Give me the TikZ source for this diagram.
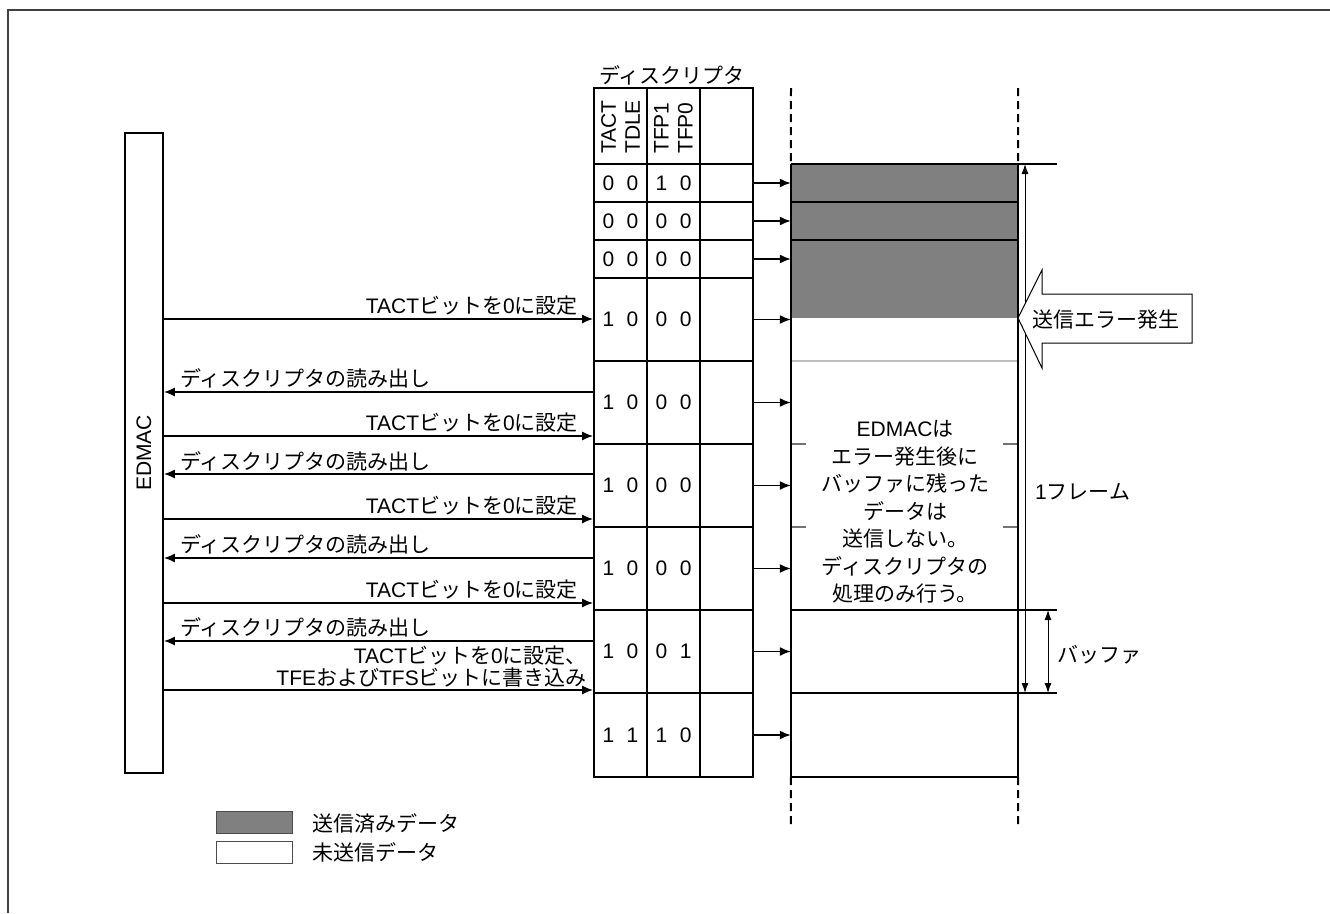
\documentclass[tikz,border=0pt]{standalone}
\usepackage{fontspec}
\setmainfont{Liberation Sans}
\newfontfamily\jpf{Noto Sans CJK JP}
\newcommand\jj[1]{{\jpf #1}}
\usetikzlibrary{arrows.meta}
\definecolor{sentgray}{HTML}{808080}
\definecolor{framegray}{HTML}{404040}
\begin{document}
\begin{tikzpicture}[x=1pt,y=-1pt,
  txt/.style={inner sep=0pt, font=\fontsize{21}{24}\selectfont},
  cell/.style={draw, line width=1.8pt, minimum width=53pt, inner sep=0pt, font=\fontsize{21}{24}\selectfont},
  arr/.style={line width=1.5pt, -{Latex[length=11pt,width=9pt]}},
  dimarr/.style={line width=1pt, {Latex[length=10pt,width=7pt]}-{Latex[length=10pt,width=7pt]}},
  thickline/.style={line width=2pt},
  thinline/.style={line width=1.1pt},
  dashline/.style={line width=2pt, dash pattern=on 8pt off 5pt}
]
\useasboundingbox (0,0) rectangle (1330,913);
\fill[white] (0,0) rectangle (1330,913);
% outer frame
\draw[line width=2pt, framegray] (8,913) -- (8,10) -- (1330,10);

% EDMAC box
\node[draw, line width=1.8pt, minimum width=38pt, minimum height=640pt, inner sep=0pt] (edmac) at (144,453) {};
\node[txt, rotate=90] (edmaclbl) at (edmac.center) {EDMAC};

% descriptor title
\node[txt] (desctitle) at (672,75) {\jj{ディスクリプタ}};

% header cells
\node[cell, minimum height=76pt] (ha) at (620.5,126) {};
\node[cell, minimum height=76pt] (hb) at (673.5,126) {};
\node[cell, minimum height=76pt] (hc) at (726.5,126) {};
\node[txt, rotate=90, anchor=west, align=left] (hal) at (620.5,154) {TACT\\TDLE};
\node[txt, rotate=90, anchor=west, align=left] (hbl) at (673.5,154) {TFP1\\TFP0};

% buffer frame (invisible node for anchors)
\node[minimum width=227pt, minimum height=613pt, inner sep=0pt] (buf) at (904.5,470.5) {};

% sent data fill
\fill[sentgray] (791,164) rectangle (1018,318);

% descriptor rows
\foreach \i/\ya/\yb/\a/\b/\c/\d in {1/164/202/0/0/1/0, 2/202/240/0/0/0/0, 3/240/278/0/0/0/0,
  4/278/361/1/0/0/0, 5/361/444/1/0/0/0, 6/444/527/1/0/0/0, 7/527/610/1/0/0/0,
  8/610/693/1/0/0/1, 9/693/777/1/1/1/0}{
  \node[cell, minimum height={(\yb-\ya)*1pt}] (ca\i) at (620.5,{(\ya+\yb)/2}) {\a\hspace{12.5pt}\b};
  \node[cell, minimum height={(\yb-\ya)*1pt}] (cb\i) at (673.5,{(\ya+\yb)/2}) {\c\hspace{12.5pt}\d};
  \node[cell, minimum height={(\yb-\ya)*1pt}] (cc\i) at (726.5,{(\ya+\yb)/2}) {};
  \draw[arr] (cc\i.east) -- (buf.west |- cc\i.east);
}

% buffer horizontal lines
\draw[thinline] (791,164) -- (1057,164);
\draw[thinline] (791,202) -- (1018,202);
\draw[thinline] (791,240) -- (1018,240);
\draw[thinline, black!25] (791,361) -- (1018,361);
\draw[thinline, black!55] (791,444) -- (806,444) (1003,444) -- (1018,444);
\draw[thinline, black!55] (791,527) -- (806,527) (1003,527) -- (1018,527);
\draw[thinline] (791,610) -- (1057,610);
\draw[thinline] (791,693) -- (1057,693);
\draw[thinline] (791,777) -- (1018,777);

% buffer vertical lines
\draw[thickline] (buf.north west) -- (buf.south west);
\draw[thickline] (buf.north east) -- (buf.south east);
\draw[dashline] (791,88) -- (buf.north west);
\draw[dashline] (1018,88) -- (buf.north east);
\draw[dashline] (buf.south west) -- (791,827);
\draw[dashline] (buf.south east) -- (1018,827);

% note in buffer
\node[inner sep=0pt, align=center, font=\fontsize{21}{27.5}\selectfont] (note) at (905,512)
  {EDMAC\jj{は}\\\jj{エラー発生後に}\\\jj{バッファに残った}\\\jj{データは}\\\jj{送信しない。}\\\jj{ディスクリプタの}\\\jj{処理のみ行う。}};

% EDMAC <-> descriptor arrows
\draw[arr] (edmac.east |- 0,319) -- (ca4.west |- 0,319);
\node[txt, anchor=base east] (t1) at (578,313) {TACT\jj{ビットを}0\jj{に設定}};
\draw[arr] (ca5.west |- 0,392) -- (edmac.east |- 0,392);
\node[txt, anchor=base west] (r1) at (180,386) {\jj{ディスクリプタの読み出し}};
\draw[arr] (edmac.east |- 0,436) -- (ca5.west |- 0,436);
\node[txt, anchor=base east] (t2) at (578,430) {TACT\jj{ビットを}0\jj{に設定}};
\draw[arr] (ca6.west |- 0,474) -- (edmac.east |- 0,474);
\node[txt, anchor=base west] (r2) at (180,469) {\jj{ディスクリプタの読み出し}};
\draw[arr] (edmac.east |- 0,519) -- (ca6.west |- 0,519);
\node[txt, anchor=base east] (t3) at (578,513) {TACT\jj{ビットを}0\jj{に設定}};
\draw[arr] (ca7.west |- 0,558) -- (edmac.east |- 0,558);
\node[txt, anchor=base west] (r3) at (180,552) {\jj{ディスクリプタの読み出し}};
\draw[arr] (edmac.east |- 0,603) -- (ca7.west |- 0,603);
\node[txt, anchor=base east] (t4) at (578,597) {TACT\jj{ビットを}0\jj{に設定}};
\draw[arr] (ca8.west |- 0,641) -- (edmac.east |- 0,641);
\node[txt, anchor=base west] (r4) at (180,635) {\jj{ディスクリプタの読み出し}};
\draw[arr] (edmac.east |- 0,690) -- (ca8.west |- 0,690);
\node[txt, anchor=base east] (t5a) at (587,663) {TACT\jj{ビットを}0\jj{に設定、}};
\node[txt, anchor=base east] (t5b) at (587,685) {TFE\jj{および}TFS\jj{ビットに書き込み}};

% 1 frame / buffer dimension arrows
\coordinate (ftop) at (1025,164);
\coordinate (fbot) at (1025,693);
\draw[dimarr] (ftop) -- (fbot);
\node[txt, anchor=west] (framelbl) at (1035,492) {1\jj{フレーム}};
\coordinate (btop) at (1048,610);
\coordinate (bbot) at (1048,693);
\draw[dimarr] (btop) -- (bbot);
\node[txt, anchor=west] (buflbl) at (1057,655) {\jj{バッファ}};

% error block arrow
\draw[line width=1pt, fill=white] (1018,318) -- (1042,270) -- (1042,294) -- (1192,294) -- (1192,343) -- (1042,343) -- (1042,368) -- cycle;
\node[txt] (errlbl) at (1106,320) {\jj{送信エラー発生}};

% legend
\node[draw=black!70, line width=1pt, fill=sentgray, minimum width=76pt, minimum height=22pt, inner sep=0pt] (lg1) at (254,822) {};
\node[txt, anchor=west] (lg1t) at (312,823) {\jj{送信済みデータ}};
\node[draw=black!70, line width=1pt, fill=white, minimum width=76pt, minimum height=22pt, inner sep=0pt] (lg2) at (254,852) {};
\node[txt, anchor=west] (lg2t) at (312,852) {\jj{未送信データ}};
\end{tikzpicture}
\end{document}
